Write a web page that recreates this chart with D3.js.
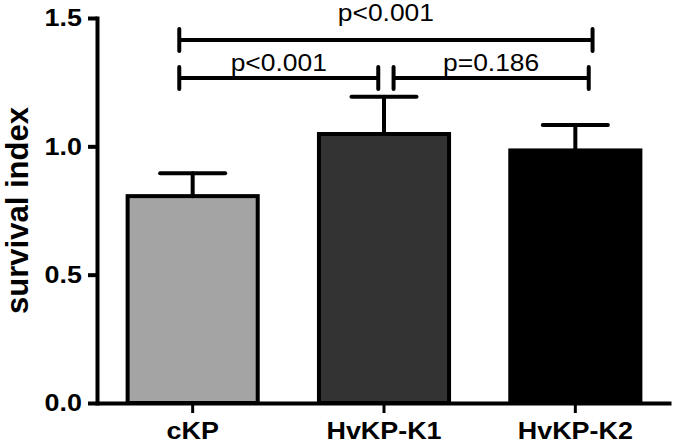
<!DOCTYPE html>
<html>
  <head>
    <meta charset="utf-8">
    <title>survival index</title>
    <script src="https://cdn.jsdelivr.net/npm/d3@7/dist/d3.min.js"></script>
    <style>
      body { margin: 0; background: #fff; }
      svg { display: block; font-family: Arial, "Liberation Sans", sans-serif; }
      .axis path, .axis line { stroke: #000; stroke-width: 4; }
      .bar { stroke: #000; stroke-width: 4; }
      .err { stroke: #000; stroke-width: 4; stroke-linecap: round; fill: none; }
      .bracket { stroke: #000; stroke-width: 4; stroke-linecap: round; fill: none; }
      .tickLabel { font-weight: bold; font-size: 23px; }
      .pLabel { font-size: 24px; }
      .title { font-weight: bold; font-size: 31px; }
    </style>
  </head>

  <body>
    <svg id="chart" width="675" height="443"></svg>

    <script>
      // data
      groups = ["cKP", "HvKP-K1", "HvKP-K2"];
      means = [0.806, 1.048, 0.984];
      errors = [0.089, 0.145, 0.099];
      fills = ["#a4a4a4", "#333333", "#000000"];
      yTicks = [0.0, 0.5, 1.0, 1.5];

      // significance brackets, ends in category units (0..3)
      bracketFrom = [0.43, 0.43, 1.55];
      bracketTo = [2.59, 1.47, 2.57];
      bracketLevel = [1.414, 1.266, 1.266];
      bracketText = ["p<0.001", "p<0.001", "p=0.186"];

      // elements
      chart = d3.select("#chart");
      boldStretch = 1.17;
      pStretch = 1.1;

      margin = { top: 18, right: 4, bottom: 40, left: 97 };
      width = 675;
      height = 443;

      x = d3.scaleBand()
        .domain(groups)
        .range([margin.left, width - margin.right])
        .paddingInner(0.32)
        .paddingOuter(0.16);

      xPos = d3.scaleLinear()
        .domain([0, groups.length])
        .range([margin.left, width - margin.right]);

      y = d3.scaleLinear()
        .domain([0, 1.5])
        .range([height - margin.bottom, margin.top]);

      // bars
      chart.append("g")
        .selectAll("rect")
          .data(groups)
        .enter().append("rect")
          .classed("bar", true)
          .attr("x", d => x(d))
          .attr("width", x.bandwidth())
          .attr("y", (d, i) => y(means[i]))
          .attr("height", (d, i) => y(0) - y(means[i]))
          .attr("fill", (d, i) => fills[i]);

      // error bars
      errGroup = chart.append("g");
      groups.forEach((g, i) => {
        let cx = x(g) + x.bandwidth() / 2;
        errGroup.append("line")
          .classed("err", true)
          .attr("x1", cx).attr("x2", cx)
          .attr("y1", y(means[i])).attr("y2", y(means[i] + errors[i]));
        errGroup.append("line")
          .classed("err", true)
          .attr("x1", cx - x.bandwidth() / 4).attr("x2", cx + x.bandwidth() / 4)
          .attr("y1", y(means[i] + errors[i])).attr("y2", y(means[i] + errors[i]));
      });

      // axes
      yAxis = d3.axisLeft(y)
        .tickValues(yTicks)
        .tickSize(9)
        .tickSizeOuter(0)
        .tickFormat("");
      yAxisGroup = chart.append("g")
        .classed("axis", true)
        .attr("transform", "translate(" + margin.left + ",0)")
        .call(yAxis);
      yAxisGroup.select(".domain").attr("stroke-linecap", "square");

      xAxis = d3.axisBottom(x)
        .tickSize(10)
        .tickSizeOuter(0)
        .tickFormat("");
      xAxisGroup = chart.append("g")
        .classed("axis", true)
        .attr("transform", "translate(0," + y(0) + ")")
        .call(xAxis);
      xAxisGroup.selectAll(".tick line").style("stroke-width", 3);

      // tick labels (stretched like the original)
      chart.append("g")
        .selectAll("text")
          .data(yTicks)
        .enter().append("text")
          .classed("tickLabel", true)
          .attr("transform", d => "translate(82," + y(d) + ") scale(" + boldStretch + ",1)")
          .attr("text-anchor", "end")
          .attr("dy", "0.36em")
          .text(d => d3.format(".1f")(d));

      chart.append("g")
        .selectAll("text")
          .data(groups)
        .enter().append("text")
          .classed("tickLabel", true)
          .attr("transform", d => "translate(" + (x(d) + x.bandwidth() / 2) + ",439) scale(" + boldStretch + ",1)")
          .attr("text-anchor", "middle")
          .text(d => d);

      // y title
      chart.append("text")
        .classed("title", true)
        .attr("transform", "translate(28," + y(0.75) + ") rotate(-90)")
        .attr("text-anchor", "middle")
        .text("survival index");

      // brackets
      bracketGroup = chart.append("g");
      bracketText.forEach((t, i) => {
        let x1 = xPos(bracketFrom[i]);
        let x2 = xPos(bracketTo[i]);
        let by = y(bracketLevel[i]);
        bracketGroup.append("path")
          .classed("bracket", true)
          .attr("d", "M" + x1 + "," + by + "H" + x2 +
            "M" + x1 + "," + (by - 11) + "V" + (by + 11) +
            "M" + x2 + "," + (by - 11) + "V" + (by + 11));
        bracketGroup.append("text")
          .classed("pLabel", true)
          .attr("transform", "translate(" + ((x1 + x2) / 2) + "," + (by - (i == 0 ? 19 : 7)) + ") scale(" + pStretch + ",1)")
          .attr("text-anchor", "middle")
          .text(t);
      });
    </script>
  </body>
</html>
